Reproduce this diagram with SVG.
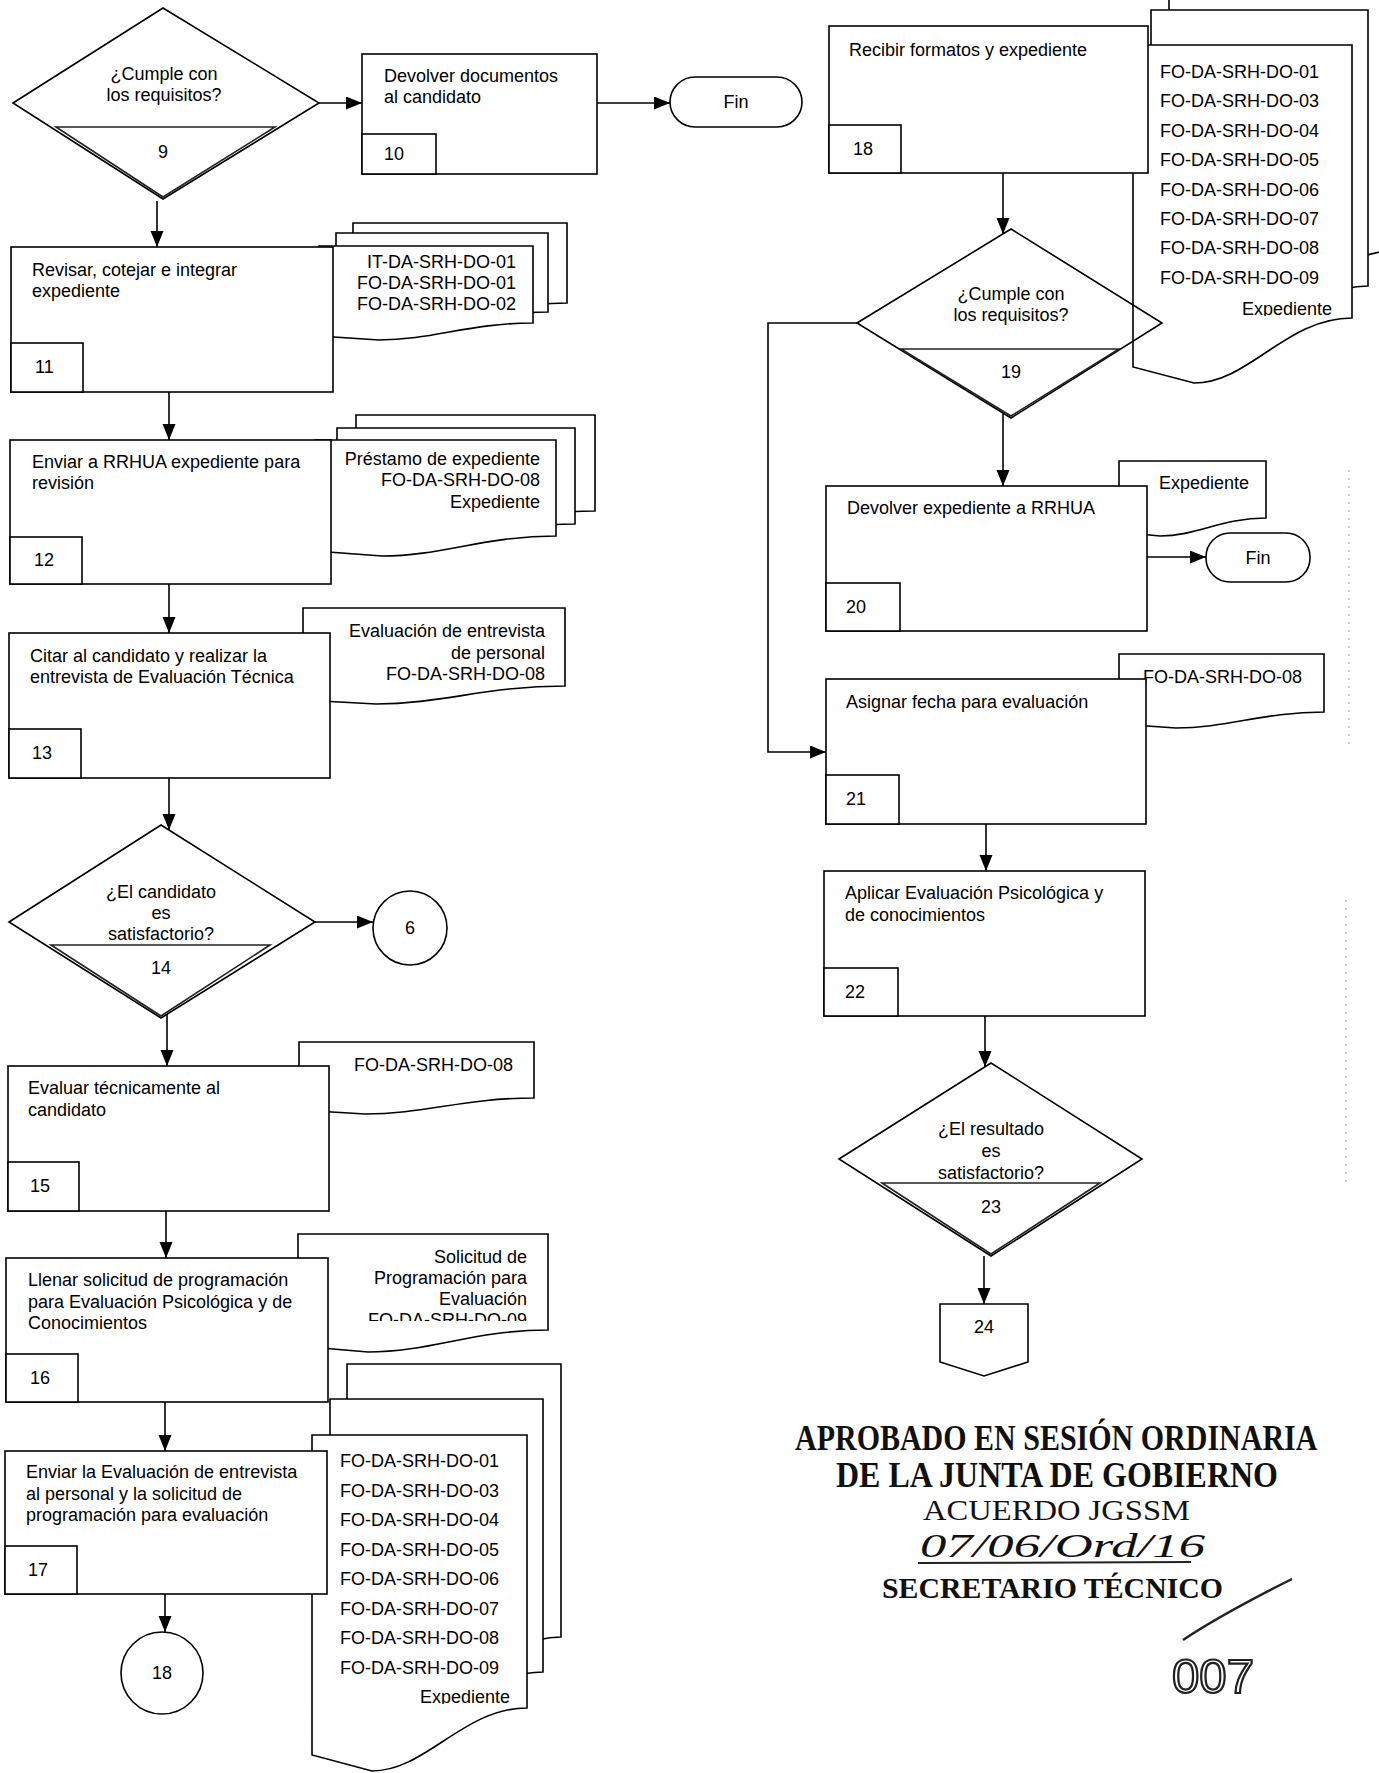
<svg xmlns="http://www.w3.org/2000/svg" width="1379" height="1773" viewBox="0 0 1379 1773">
<style>
.box{fill:#fff;stroke:#000;stroke-width:1.6}
.doc{fill:#fff;stroke:#000;stroke-width:1.6}
.dia{fill:none;stroke:#000;stroke-width:1.6}
.tri{fill:none;stroke:#222;stroke-width:1.6}
.t{font-family:"Liberation Sans",Arial,sans-serif;font-size:18px;fill:#000}
.c{text-anchor:middle}
.r{text-anchor:end}
.conn{fill:none;stroke:#000;stroke-width:1.6;marker-end:url(#ah)}
.stamp{font-family:"Liberation Serif","Times New Roman",serif;fill:#111}
.scan{fill:none;stroke:#999;stroke-width:1;stroke-dasharray:2 6}
</style>
<defs>
<marker id="ah" markerUnits="userSpaceOnUse" markerWidth="18" markerHeight="14" refX="16" refY="6.5" orient="auto"><path d="M0,0 L16,6.5 L0,13 Z" fill="#000"/></marker>
<clipPath id="clip16"><rect x="290" y="1230" width="260" height="91"/></clipPath>
<clipPath id="clip17"><rect x="300" y="1430" width="230" height="274"/></clipPath>
<clipPath id="clip18"><rect x="1130" y="40" width="230" height="276"/></clipPath>
</defs>
<rect width="1379" height="1773" fill="#fff"/>

<!-- documents (behind process boxes) -->
<g id="doc11">
<path class="doc" d="M353,223 H567 V303 C503,303 467,320 413,320 L353,316 Z"/>
<path class="doc" d="M336,233 H548 V312 C484,312 448,329 395,329 L336,325 Z"/>
<path class="doc" d="M319,246 H533 V323 C469,323 433,340 379,340 L319,336 Z"/>
<text class="t r" x="516" y="268">IT-DA-SRH-DO-01</text>
<text class="t r" x="516" y="289">FO-DA-SRH-DO-01</text>
<text class="t r" x="516" y="310">FO-DA-SRH-DO-02</text>
</g>
<g id="doc12">
<path class="doc" d="M356,415 H595 V511 C523,511 483,531 423,531 L356,526 Z"/>
<path class="doc" d="M337,428 H575 V524 C504,524 464,544 404,544 L337,539 Z"/>
<path class="doc" d="M315,440 H556 V536 C484,536 442,556 382,556 L315,551 Z"/>
<text class="t r" x="540" y="465">Préstamo de expediente</text>
<text class="t r" x="540" y="486">FO-DA-SRH-DO-08</text>
<text class="t r" x="540" y="508">Expediente</text>
</g>
<g id="doc13">
<path class="doc" d="M303,608 H565 V686 C486,686 442,704 376,704 L303,700 Z"/>
<text class="t r" x="545" y="637">Evaluación de entrevista</text>
<text class="t r" x="545" y="659">de personal</text>
<text class="t r" x="545" y="680">FO-DA-SRH-DO-08</text>
</g>
<g id="doc15">
<path class="doc" d="M299,1042 H534 V1098 C464,1098 424,1114 365,1114 L299,1110 Z"/>
<text class="t r" x="513" y="1071">FO-DA-SRH-DO-08</text>
</g>
<g id="doc16">
<path class="doc" d="M298,1234 H548 V1330 C473,1330 431,1352 368,1352 L298,1346 Z"/>
<g clip-path="url(#clip16)">
<text class="t r" x="527" y="1263">Solicitud de</text>
<text class="t r" x="527" y="1284">Programación para</text>
<text class="t r" x="527" y="1305">Evaluación</text>
<text class="t r" x="527" y="1326">FO-DA-SRH-DO-09</text>
</g>
</g>
<g id="doc17">
<path class="doc" d="M347,1364 H561 V1637 C497,1637 461,1700 407,1700 L347,1684 Z"/>
<path class="doc" d="M330,1399 H543 V1672 C479,1672 443,1735 390,1735 L330,1719 Z"/>
<path class="doc" d="M312,1435 H527 V1708 C463,1708 426,1771 372,1771 L312,1755 Z"/>
<g clip-path="url(#clip17)">
<text class="t" x="340" y="1467">FO-DA-SRH-DO-01</text>
<text class="t" x="340" y="1496.5">FO-DA-SRH-DO-03</text>
<text class="t" x="340" y="1526">FO-DA-SRH-DO-04</text>
<text class="t" x="340" y="1555.5">FO-DA-SRH-DO-05</text>
<text class="t" x="340" y="1585">FO-DA-SRH-DO-06</text>
<text class="t" x="340" y="1614.5">FO-DA-SRH-DO-07</text>
<text class="t" x="340" y="1644">FO-DA-SRH-DO-08</text>
<text class="t" x="340" y="1673.5">FO-DA-SRH-DO-09</text>
<text class="t r" x="510" y="1703">Expediente</text>
</g>
</g>
<g id="doc18">
<path class="doc" d="M1169,-60 H1400 V250 C1331,250 1292,315 1234,315 L1169,299 Z"/>
<path class="doc" d="M1151,10 H1368 V286 C1303,286 1266,351 1212,351 L1151,335 Z"/>
<path class="doc" d="M1133,45 H1352 V318 C1286,318 1249,383 1194,383 L1133,367 Z"/>
<g clip-path="url(#clip18)">
<text class="t" x="1160" y="78">FO-DA-SRH-DO-01</text>
<text class="t" x="1160" y="107.4">FO-DA-SRH-DO-03</text>
<text class="t" x="1160" y="136.8">FO-DA-SRH-DO-04</text>
<text class="t" x="1160" y="166.2">FO-DA-SRH-DO-05</text>
<text class="t" x="1160" y="195.6">FO-DA-SRH-DO-06</text>
<text class="t" x="1160" y="225">FO-DA-SRH-DO-07</text>
<text class="t" x="1160" y="254.4">FO-DA-SRH-DO-08</text>
<text class="t" x="1160" y="283.8">FO-DA-SRH-DO-09</text>
<text class="t r" x="1332" y="315">Expediente</text>
</g>
</g>
<g id="doc20">
<path class="doc" d="M1119,461 H1266 V518 C1222,518 1197,536 1160,536 L1119,532 Z"/>
<text class="t r" x="1249" y="489">Expediente</text>
</g>
<g id="doc21">
<path class="doc" d="M1119,654 H1324 V712 C1263,712 1227,728 1176,728 L1119,724 Z"/>
<text class="t r" x="1302" y="683">FO-DA-SRH-DO-08</text>
</g>

<!-- process boxes -->
<g id="n10">
<rect class="box" x="362" y="54" width="235" height="120"/>
<rect class="box" x="362" y="134" width="74" height="40"/>
<text class="t" x="384" y="82">Devolver documentos</text>
<text class="t" x="384" y="103">al candidato</text>
<text class="t" x="384" y="160">10</text>
</g>
<g id="n11">
<rect class="box" x="11" y="247" width="322" height="145"/>
<rect class="box" x="11" y="343" width="72" height="49"/>
<text class="t" x="32" y="276">Revisar, cotejar e integrar</text>
<text class="t" x="32" y="297">expediente</text>
<text class="t" x="35" y="373">11</text>
</g>
<g id="n12">
<rect class="box" x="10" y="440" width="321" height="144"/>
<rect class="box" x="10" y="537" width="72" height="47"/>
<text class="t" x="32" y="468">Enviar a RRHUA expediente para</text>
<text class="t" x="32" y="489">revisión</text>
<text class="t" x="34" y="566">12</text>
</g>
<g id="n13">
<rect class="box" x="9" y="633" width="321" height="145"/>
<rect class="box" x="9" y="729" width="72" height="49"/>
<text class="t" x="30" y="662">Citar al candidato y realizar la</text>
<text class="t" x="30" y="683">entrevista de Evaluación Técnica</text>
<text class="t" x="32" y="759">13</text>
</g>
<g id="n15">
<rect class="box" x="8" y="1066" width="321" height="145"/>
<rect class="box" x="8" y="1162" width="71" height="49"/>
<text class="t" x="28" y="1094">Evaluar técnicamente al</text>
<text class="t" x="28" y="1116">candidato</text>
<text class="t" x="30" y="1192">15</text>
</g>
<g id="n16">
<rect class="box" x="6" y="1258" width="322" height="144"/>
<rect class="box" x="6" y="1354" width="72" height="48"/>
<text class="t" x="28" y="1286">Llenar solicitud de programación</text>
<text class="t" x="28" y="1308">para Evaluación Psicológica y de</text>
<text class="t" x="28" y="1329">Conocimientos</text>
<text class="t" x="30" y="1384">16</text>
</g>
<g id="n17">
<rect class="box" x="5" y="1451" width="322" height="143"/>
<rect class="box" x="5" y="1546" width="72" height="48"/>
<text class="t" x="26" y="1478">Enviar la Evaluación de entrevista</text>
<text class="t" x="26" y="1500">al personal y la solicitud de</text>
<text class="t" x="26" y="1521">programación para evaluación</text>
<text class="t" x="28" y="1576">17</text>
</g>
<g id="n18">
<rect class="box" x="829" y="26" width="319" height="147"/>
<rect class="box" x="829" y="125" width="72" height="48"/>
<text class="t" x="849" y="56">Recibir formatos y expediente</text>
<text class="t" x="853" y="155">18</text>
</g>
<g id="n20">
<rect class="box" x="826" y="486" width="321" height="145"/>
<rect class="box" x="826" y="583" width="74" height="48"/>
<text class="t" x="847" y="514">Devolver expediente a RRHUA</text>
<text class="t" x="846" y="613">20</text>
</g>
<g id="n21">
<rect class="box" x="826" y="679" width="320" height="145"/>
<rect class="box" x="826" y="775" width="73" height="49"/>
<text class="t" x="846" y="708">Asignar fecha para evaluación</text>
<text class="t" x="846" y="805">21</text>
</g>
<g id="n22">
<rect class="box" x="824" y="871" width="321" height="145"/>
<rect class="box" x="824" y="968" width="74" height="48"/>
<text class="t" x="845" y="899">Aplicar Evaluación Psicológica y</text>
<text class="t" x="845" y="921">de conocimientos</text>
<text class="t" x="845" y="998">22</text>
</g>

<!-- decisions -->
<g id="n9">
<polygon class="dia" points="13,103 163,8 319,103 163,199"/>
<polygon class="tri" points="56,127 275,127 163,197"/>
<text class="t c" x="164" y="80">¿Cumple con</text>
<text class="t c" x="164" y="101">los requisitos?</text>
<text class="t c" x="163" y="158">9</text>
</g>
<g id="n14">
<polygon class="dia" points="9,922 161,825 315,922 161,1018"/>
<polygon class="tri" points="51,945 270,945 161,1016"/>
<text class="t c" x="161" y="898">¿El candidato</text>
<text class="t c" x="161" y="919">es</text>
<text class="t c" x="161" y="940">satisfactorio?</text>
<text class="t c" x="161" y="974">14</text>
</g>
<g id="n19">
<polygon class="dia" points="857,323 1011,229 1162,323 1011,418"/>
<polygon class="tri" points="901,349 1119,349 1011,416"/>
<text class="t c" x="1011" y="300">¿Cumple con</text>
<text class="t c" x="1011" y="321">los requisitos?</text>
<text class="t c" x="1011" y="378">19</text>
</g>
<g id="n23">
<polygon class="dia" points="839,1159 991,1063 1142,1159 991,1256"/>
<polygon class="tri" points="882,1183 1100,1183 991,1254"/>
<text class="t c" x="991" y="1135">¿El resultado</text>
<text class="t c" x="991" y="1157">es</text>
<text class="t c" x="991" y="1179">satisfactorio?</text>
<text class="t c" x="991" y="1213">23</text>
</g>

<!-- terminators and connectors symbols -->
<g id="fin1">
<rect class="box" x="670" y="77" width="132" height="50" rx="25" ry="25"/>
<text class="t c" x="736" y="108">Fin</text>
</g>
<g id="fin2">
<rect class="box" x="1206" y="533" width="104" height="49" rx="24" ry="24"/>
<text class="t c" x="1258" y="564">Fin</text>
</g>
<g id="c6">
<circle class="box" cx="410" cy="928" r="37"/>
<text class="t c" x="410" y="934">6</text>
</g>
<g id="c18">
<circle class="box" cx="162" cy="1673" r="41"/>
<text class="t c" x="162" y="1679">18</text>
</g>
<g id="p24">
<polygon class="box" points="940,1304 1028,1304 1028,1362 984,1376 940,1362"/>
<text class="t c" x="984" y="1333">24</text>
</g>

<!-- connectors -->
<g id="connectors">
<line class="conn" x1="319" y1="103" x2="362" y2="103"/>
<line class="conn" x1="597" y1="103" x2="670" y2="103"/>
<line class="conn" x1="157" y1="201" x2="157" y2="247"/>
<line class="conn" x1="169" y1="392" x2="169" y2="440"/>
<line class="conn" x1="169" y1="584" x2="169" y2="633"/>
<line class="conn" x1="169" y1="778" x2="169" y2="830"/>
<line class="conn" x1="315" y1="922" x2="373" y2="922"/>
<line class="conn" x1="167" y1="1014" x2="167" y2="1066"/>
<line class="conn" x1="166" y1="1211" x2="166" y2="1258"/>
<line class="conn" x1="165" y1="1402" x2="165" y2="1451"/>
<line class="conn" x1="165" y1="1594" x2="165" y2="1632"/>
<line class="conn" x1="1003" y1="173" x2="1003" y2="234"/>
<line class="conn" x1="1003" y1="414" x2="1003" y2="486"/>
<polyline class="conn" points="857,323 768,323 768,752 826,752"/>
<line class="conn" x1="1147" y1="557" x2="1206" y2="557"/>
<line class="conn" x1="986" y1="824" x2="986" y2="871"/>
<line class="conn" x1="985" y1="1016" x2="985" y2="1067"/>
<line class="conn" x1="984" y1="1256" x2="984" y2="1304"/>
</g>

<!-- approval stamp -->
<g id="stamp">
<text class="stamp" transform="translate(795,1450) scale(1,1.2)" x="0" y="0" font-size="30" font-weight="bold">APROBADO EN SESIÓN ORDINARIA</text>
<text class="stamp" transform="translate(836,1487) scale(1,1.1)" x="0" y="0" font-size="32" font-weight="bold">DE LA JUNTA DE GOBIERNO</text>
<text class="stamp" x="923" y="1520" font-size="30" textLength="267" lengthAdjust="spacingAndGlyphs">ACUERDO JGSSM</text>
<text class="stamp" x="920" y="1557" font-size="34" font-style="italic" textLength="285" lengthAdjust="spacingAndGlyphs">07/06/Ord/16</text>
<path d="M918,1563 L1191,1562" stroke="#222" stroke-width="2" fill="none"/>
<text class="stamp" x="882" y="1598" font-size="30" font-weight="bold" textLength="341" lengthAdjust="spacingAndGlyphs">SECRETARIO TÉCNICO</text>
<path d="M1183,1640 C1210,1622 1250,1600 1292,1579" stroke="#222" stroke-width="2.5" fill="none"/>
<text x="1172" y="1693" font-family="Liberation Sans,Arial,sans-serif" font-size="48" fill="#fff" stroke="#222" stroke-width="2.2" textLength="82" lengthAdjust="spacingAndGlyphs">007</text>
</g>

<!-- scan artifacts -->
<line class="scan" x1="1349" y1="470" x2="1349" y2="750"/>
<line class="scan" x1="1346" y1="900" x2="1346" y2="1185"/>
</svg>
